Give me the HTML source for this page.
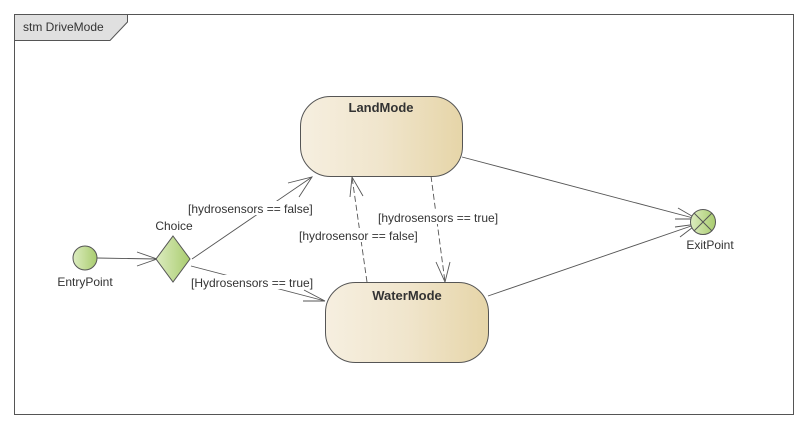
<!DOCTYPE html>
<html><head><style>body{margin:0;background:#fff}svg{display:block}text{font-family:"Liberation Sans",sans-serif;font-size:12px;fill:#333}</style></head><body>
<svg width="811" height="430" viewBox="0 0 811 430" xmlns="http://www.w3.org/2000/svg">
<defs>
<linearGradient id="st" x1="0" x2="1"><stop offset="0" stop-color="#f6efe0"/><stop offset="0.5" stop-color="#f0e5cc"/><stop offset="1" stop-color="#e6d5a8"/></linearGradient>
<linearGradient id="gr" x1="0" x2="1"><stop offset="0" stop-color="#dcecc0"/><stop offset="1" stop-color="#a9cc6e"/></linearGradient>
</defs>
<rect x="14.5" y="14.5" width="779" height="400" fill="#fff" stroke="#555"/>
<polygon points="14.5,14.5 127.5,14.5 127.5,22 110,40.5 14.5,40.5" fill="#e0e0e0" stroke="#555"/>
<text x="23" y="31" style="font-size:12px">stm DriveMode</text>
<g stroke="#555" fill="none" stroke-width="0.9">
<line x1="97" y1="258" x2="157" y2="259"/>
<polyline points="137,252 157,259 137,266"/>
<line x1="192" y1="259" x2="312" y2="177"/>
<polyline points="288,183 312,177 299,197"/>
<line x1="191" y1="266" x2="325" y2="301"/>
<polyline points="304,290 325,301 303,301"/>
<line x1="462" y1="157" x2="697" y2="219"/>
<polyline points="678,208 697,219 675,219"/>
<line x1="488" y1="296" x2="697" y2="224"/>
<polyline points="675,227 697,224 680,237"/>
<g stroke-dasharray="6,3">
<line x1="431" y1="176" x2="445" y2="282"/>
<line x1="367" y1="282" x2="352" y2="177"/>
</g>
<polyline points="436,262 445,282 450,262"/>
<polyline points="350,197 352,177 363,196"/>
</g>
<rect x="188" y="275" width="130" height="14" fill="#fff"/>
<rect x="188" y="201" width="128" height="14" fill="#fff"/>
<rect x="378" y="210" width="122" height="14" fill="#fff"/>
<rect x="299" y="228" width="120" height="14" fill="#fff"/>
<rect x="300.5" y="96.5" width="162" height="80" rx="30" fill="url(#st)" stroke="#555"/>
<rect x="325.5" y="282.5" width="163" height="80" rx="30" fill="url(#st)" stroke="#555"/>
<text x="381" y="112" text-anchor="middle" style="font-weight:bold;font-size:13px">LandMode</text>
<text x="407" y="300" text-anchor="middle" style="font-weight:bold;font-size:13px">WaterMode</text>
<circle cx="85" cy="258" r="12" fill="url(#gr)" stroke="#555"/>
<polygon points="173,236 190,259 173,282 156,259" fill="url(#gr)" stroke="#555"/>
<circle cx="703" cy="222" r="12.5" fill="url(#gr)" stroke="#555"/>
<g stroke="#555"><line x1="694" y1="213" x2="712" y2="231"/><line x1="712" y1="213" x2="694" y2="231"/></g>
<text x="85" y="286" text-anchor="middle">EntryPoint</text>
<text x="174" y="230" text-anchor="middle">Choice</text>
<text x="188" y="213">[hydrosensors == false]</text>
<text x="191" y="287">[Hydrosensors == true]</text>
<text x="378" y="222">[hydrosensors == true]</text>
<text x="299" y="240">[hydrosensor == false]</text>
<text x="710" y="249" text-anchor="middle">ExitPoint</text>
</svg>
</body></html>
